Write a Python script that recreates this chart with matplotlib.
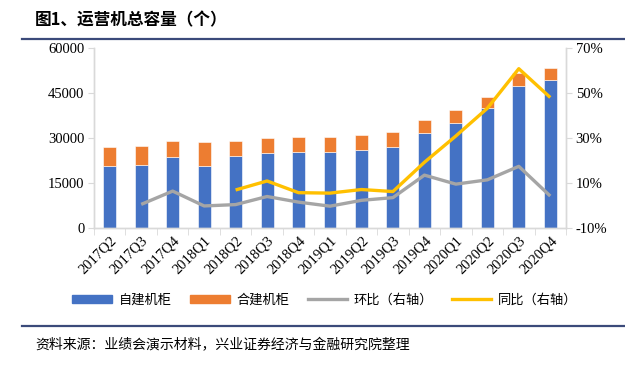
import matplotlib
matplotlib.use("Agg")
import matplotlib.pyplot as plt
from matplotlib.lines import Line2D
from matplotlib.patches import Patch
import numpy as np

plt.rcParams["font.family"] = ["Liberation Serif", "Noto Sans CJK SC"]

categories = ["2017Q2", "2017Q3", "2017Q4", "2018Q1", "2018Q2", "2018Q3", "2018Q4",
              "2019Q1", "2019Q2", "2019Q3", "2019Q4", "2020Q1", "2020Q2", "2020Q3", "2020Q4"]
self_built = [20700, 21100, 23600, 20700, 24000, 25100, 25500,
              25400, 26100, 27000, 31700, 35100, 40000, 47300, 49500]
joint_built = [6300, 6100, 5300, 8100, 4900, 4900, 5000,
               5000, 4800, 5000, 4300, 4200, 3700, 4500, 3800]
qoq = [None, 0.5, 6.4, -0.2, 0.4, 4.0, 1.5, -0.3, 2.3, 3.5, 13.5, 9.5, 11.4, 17.4, 4.2]
yoy = [None, None, None, None, 6.9, 10.9, 5.7, 5.5, 7.1, 6.2, 19.2, 30.9, 43.2, 60.8, 48.0]

left_ticks = [0, 15000, 30000, 45000, 60000]
right_ticks = [-10, 10, 30, 50, 70]

cjk = ["Noto Sans CJK SC", "DejaVu Sans"]

fig = plt.figure(figsize=(6.25, 3.67), dpi=100)
ax = fig.add_axes([94/625, 1-228/367, 472/625, 180/367])
ax2 = ax.twinx()

x = np.arange(len(categories))
blue, orange, grey, yellow = "#4472C4", "#ED7D31", "#A5A5A5", "#FFC000"
ax.bar(x, self_built, width=0.41, color=blue, edgecolor="white", linewidth=0.4, zorder=2)
ax.bar(x, joint_built, width=0.41, bottom=self_built, color=orange, edgecolor="white", linewidth=0.4, zorder=2)

def series(vals):
    xs = [i for i, v in enumerate(vals) if v is not None]
    ys = [v for v in vals if v is not None]
    return xs, ys

gx, gy = series(qoq)
yx, yy = series(yoy)
ax2.plot(gx, gy, color=grey, lw=2.4, solid_capstyle="butt", zorder=3)
ax2.plot(yx, yy, color=yellow, lw=2.4, solid_capstyle="butt", zorder=4)

ax.set_xlim(-0.5, len(categories) - 0.5)
ax.set_ylim(0, 60000)
ax2.set_ylim(-10, 70)
ax.set_yticks(left_ticks)
ax.set_yticklabels([str(t) for t in left_ticks], fontsize=10.5)
ax2.set_yticks(right_ticks)
ax2.set_yticklabels([f"{t}%" for t in right_ticks], fontsize=10.5)

ax.set_xticks(x)
ax.set_xticklabels(categories, rotation=45, ha="right", rotation_mode="anchor", fontsize=10.5)
ax.set_xticks(np.arange(-0.5, len(categories), 1), minor=True)
ax.tick_params(axis="x", which="major", length=0, pad=4)
ax.tick_params(axis="x", which="minor", length=5, color="#D9D9D9", direction="out")
ax.tick_params(axis="y", length=4, color="#D9D9D9", pad=3)
ax2.tick_params(axis="y", length=4, color="#D9D9D9", pad=3)

for a in (ax, ax2):
    a.spines["top"].set_visible(False)
    for s in ["left", "right", "bottom"]:
        a.spines[s].set_color("#D9D9D9")
        a.spines[s].set_linewidth(1.0)

# Title and rules
fig.text(35/625, 1-20/367, "图1、运营机总容量（个）", fontfamily=cjk, fontsize=12,
         fontweight="bold", va="center", ha="left")
fig.add_artist(Line2D([22/625, 1.0], [1-39/367, 1-39/367], color="#3B4A7A", lw=1.6))
fig.add_artist(Line2D([22/625, 1.0], [1-326/367, 1-326/367], color="#3B4A7A", lw=1.6))
fig.text(35/625, 1-345/367, "资料来源：业绩会演示材料，兴业证券经济与金融研究院整理",
         fontfamily=cjk, fontsize=10, va="center", ha="left")

handles = [Patch(facecolor=blue, edgecolor=blue),
           Patch(facecolor=orange, edgecolor=orange),
           Line2D([0], [0], color=grey, lw=2.4),
           Line2D([0], [0], color=yellow, lw=2.4)]
labels = ["自建机柜", "合建机柜", "环比（右轴）", "同比（右轴）"]
leg = fig.legend(handles, labels, loc="center", bbox_to_anchor=(325/625, 1-300/367),
                 ncol=4, frameon=False, prop={"family": cjk, "size": 9.5},
                 handlelength=3.0, handleheight=0.6, columnspacing=1.4, handletextpad=0.5)

fig.savefig("out.png", dpi=100)
